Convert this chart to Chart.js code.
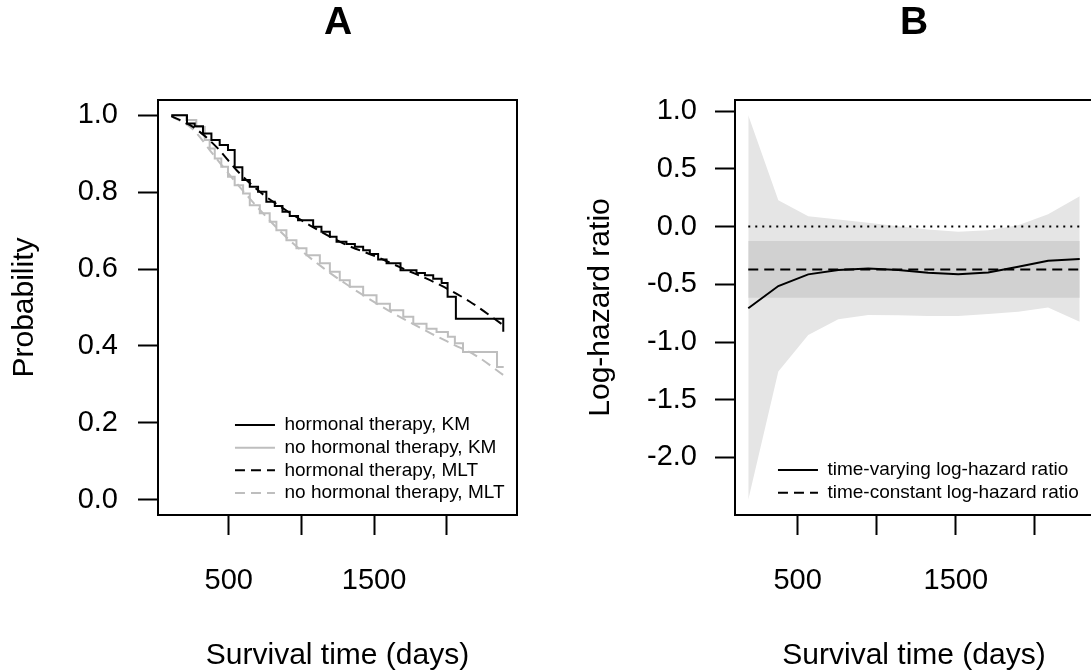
<!DOCTYPE html>
<html>
<head>
<meta charset="utf-8">
<script src="https://cdn.jsdelivr.net/npm/chart.js@4.4.1/dist/chart.umd.min.js"></script>
<style>
    html, body { margin: 0; padding: 0; background: #fff; overflow: hidden; width: 1091px; height: 670px; }
    #panelA { position: absolute; left: 0; top: 0; }
    #panelB { position: absolute; left: 545px; top: 0; }
</style>
</head>
<body>
<canvas id="panelA" width="676" height="670"></canvas>
<canvas id="panelB" width="738" height="670"></canvas>
<script>
// ===== PANEL A: survival curves =====
const kmHormTime = [105, 213, 266, 323, 381, 438, 495, 541, 594, 645, 702, 759, 817, 870, 920, 977, 1081,
    1138, 1196, 1242, 1310, 1368, 1425, 1471, 1528, 1586, 1682, 1792, 1850, 1907, 1965, 2006, 2063, 2389];
const kmHormProb = [1.000, 0.979, 0.972, 0.953, 0.936, 0.923, 0.910, 0.865, 0.832, 0.814, 0.801, 0.775, 0.764,
    0.749, 0.738, 0.727, 0.710, 0.697, 0.684, 0.671, 0.665, 0.658, 0.649, 0.639, 0.625, 0.615, 0.597, 0.590,
    0.584, 0.575, 0.564, 0.528, 0.471, 0.437];

const kmNoHormTime = [105, 208, 277, 335, 369, 404, 449, 495, 541, 599, 645, 714, 782, 828, 897, 966, 1035,
    1127, 1196, 1264, 1333, 1425, 1517, 1609, 1701, 1770, 1861, 1930, 2008, 2056, 2112, 2346, 2392];
const kmNoHormProb = [1.000, 0.988, 0.970, 0.936, 0.914, 0.888, 0.866, 0.840, 0.818, 0.797, 0.766, 0.745,
    0.723, 0.701, 0.675, 0.654, 0.636, 0.615, 0.593, 0.571, 0.554, 0.532, 0.510, 0.493, 0.476, 0.458, 0.445,
    0.436, 0.424, 0.407, 0.384, 0.345, 0.345];

const mltHormTime = [105, 254, 415, 553, 714, 874, 1058, 1287, 1517, 1701, 1930, 2160, 2389];
const mltHormProb = [0.998, 0.970, 0.918, 0.858, 0.801, 0.758, 0.714, 0.667, 0.632, 0.601, 0.563, 0.515, 0.454];

const mltNoHormTime = [105, 250, 400, 550, 700, 850, 1000, 1150, 1300, 1450, 1600, 1750, 1900, 2050, 2200, 2390];
const mltNoHormProb = [0.998, 0.965, 0.895, 0.825, 0.760, 0.700, 0.648, 0.603, 0.563, 0.526, 0.492, 0.461,
    0.431, 0.403, 0.375, 0.324];

const probLimits = [0, 1];
const probTicks = [0, 0.2, 0.4, 0.6, 0.8, 1.0];
const probTickLabels = ['0.0', '0.2', '0.4', '0.6', '0.8', '1.0'];

const timeTicks = [500, 1000, 1500, 2000];
const timeTickLabels = ['500', '', '1500', ''];

// ===== PANEL B: log-hazard ratio =====
const hrTime = [188, 378, 567, 757, 946, 1136, 1325, 1515, 1704, 1894, 2083, 2283];
const hrVarying = [-0.708, -0.515, -0.414, -0.377, -0.363, -0.377, -0.400, -0.412, -0.397, -0.348, -0.296, -0.282];
const hrUpper = [0.963, 0.228, 0.090, 0.061, 0.032, 0.003, -0.025, -0.046, -0.032, 0.012, 0.107, 0.263];
const hrLower = [-2.365, -1.256, -0.939, -0.803, -0.766, -0.769, -0.775, -0.775, -0.757, -0.737, -0.700, -0.824];
const hrConstant = -0.371;
const hrConstUpper = -0.126;
const hrConstLower = -0.616;
const nullEffect = 0;

const hrTicks = [-2, -1.5, -1, -0.5, 0, 0.5, 1];
const hrTickLabels = ['-2.0', '-1.5', '-1.0', '-0.5', '0.0', '0.5', '1.0'];

// ===== HELPERS =====
const FONT = "'Liberation Sans', Arial, Helvetica, sans-serif";
const GREY = '#bebebe';

const zip = (xs, ys) => xs.map((x, i) => ({ x, y: ys[i] }));
const flat = (xs, v) => [{ x: xs[0], y: v }, { x: xs[xs.length - 1], y: v }];
// R-style axis range: data range plus 4% on each side
const extend = (lo, hi) => [lo - 0.04 * (hi - lo), hi + 0.04 * (hi - lo)];

const tickGrid = { drawOnChartArea: false, drawTicks: true, tickLength: 20, tickWidth: 2, tickColor: '#000' };

// box around the plot region
const frame = {
    id: 'frame',
    afterDraw(chart) {
        const { ctx, chartArea: a } = chart;
        ctx.save();
        ctx.strokeStyle = '#000';
        ctx.lineWidth = 2;
        ctx.strokeRect(a.left, a.top, a.right - a.left, a.bottom - a.top);
        ctx.restore();
    }
};

// put the legend box inside the plot, bottom right
const legendSpot = {
    id: 'legendSpot',
    afterLayout(chart, args, opts) {
        const lg = chart.legend;
        if (!lg) return;
        const w = lg.width, h = lg.height;
        lg.left = opts.x; lg.right = opts.x + w;
        lg.top = opts.y; lg.bottom = opts.y + h;
    }
};

function lineLegend(chart) {
    return chart.data.datasets
        .map((ds, i) => ({ ds, i }))
        .filter(o => o.ds.label)
        .map(({ ds, i }) => ({
            text: ds.label,
            fillStyle: 'rgba(0,0,0,0)',
            strokeStyle: ds.borderColor,
            lineWidth: ds.borderWidth,
            lineDash: ds.borderDash || [],
            lineCap: 'butt',
            pointStyle: 'line',
            hidden: false,
            fontColor: '#000',
            datasetIndex: i
        }));
}

function panelOptions(p) {
    return {
        responsive: false,
        animation: false,
        devicePixelRatio: 1,
        events: [],
        elements: { point: { radius: 0 }, line: { borderWidth: 2, fill: false } },
        layout: { padding: 0 },
        plugins: {
            title: {
                display: true, text: p.title, color: '#000',
                font: { family: FONT, size: 39, weight: 'bold' },
                padding: { top: 0, bottom: 53.2 }
            },
            legend: {
                position: 'chartArea',
                align: 'start',
                labels: {
                    usePointStyle: true, pointStyle: 'line', pointStyleWidth: 40, boxHeight: 19,
                    padding: 3.67, color: '#000', textAlign: 'left',
                    font: { family: FONT, size: 19 },
                    generateLabels: lineLegend
                }
            },
            tooltip: { enabled: false },
            legendSpot: p.legendAt
        },
        scales: {
            x: {
                type: 'linear', position: 'bottom',
                min: p.xlim[0], max: p.xlim[1],
                afterBuildTicks: s => { s.ticks = timeTicks.map(v => ({ value: v })); },
                afterFit: s => { s.height = 155; },
                grid: tickGrid,
                border: { display: false },
                ticks: {
                    color: '#000', font: { family: FONT, size: 29 }, padding: 29,
                    maxRotation: 0, autoSkip: false,
                    callback: (v, i) => timeTickLabels[i]
                },
                title: {
                    display: true, text: 'Survival time (days)', color: '#000',
                    font: { family: FONT, size: 30 }, padding: { top: 0, bottom: -4 }
                }
            },
            y: {
                type: 'linear', position: 'left',
                min: p.ylim[0], max: p.ylim[1],
                afterBuildTicks: s => { s.ticks = p.yTicks.map(v => ({ value: v })); },
                afterFit: s => { s.width = p.leftWidth; },
                grid: tickGrid,
                border: { display: false },
                ticks: {
                    color: '#000', font: { family: FONT, size: 29 }, padding: p.yPad,
                    callback: (v, i) => p.yLabels[i]
                },
                title: {
                    display: true, text: p.yTitle, color: '#000',
                    font: { family: FONT, size: 30 }, padding: { top: p.yTitlePad, bottom: 0 }
                }
            },
            yRight: {
                position: 'right',
                grid: { display: false },
                border: { display: false },
                ticks: { display: false },
                afterFit: s => { s.width = p.rightWidth; }
            }
        }
    };
}

// ===== PANEL A =====
const allTimesA = [...kmHormTime, ...kmNoHormTime, ...mltHormTime, ...mltNoHormTime];

new Chart(document.getElementById('panelA'), {
    type: 'line',
    data: {
        datasets: [
            { label: 'hormonal therapy, KM', data: zip(kmHormTime, kmHormProb),
              borderColor: '#000', borderWidth: 2, stepped: true, order: 1 },
            { label: 'no hormonal therapy, KM', data: zip(kmNoHormTime, kmNoHormProb),
              borderColor: GREY, borderWidth: 2, stepped: true, order: 3 },
            { label: 'hormonal therapy, MLT', data: zip(mltHormTime, mltHormProb),
              borderColor: '#000', borderWidth: 2, borderDash: [10, 6], cubicInterpolationMode: 'monotone', order: 0 },
            { label: 'no hormonal therapy, MLT', data: zip(mltNoHormTime, mltNoHormProb),
              borderColor: GREY, borderWidth: 2, borderDash: [10, 6], cubicInterpolationMode: 'monotone', order: 2 }
        ]
    },
    options: panelOptions({
        title: 'A',
        xlim: extend(Math.min(...allTimesA), Math.max(...allTimesA)),
        ylim: extend(probLimits[0], probLimits[1]),
        yTicks: probTicks, yLabels: probTickLabels,
        yTitle: 'Probability', yTitlePad: 6.5, yPad: 20,
        leftWidth: 158, rightWidth: 159,
        legendAt: { x: 231.3, y: 411.8 }
    }),
    plugins: [frame, legendSpot]
});

// ===== PANEL B =====
new Chart(document.getElementById('panelB'), {
    type: 'line',
    data: {
        datasets: [
            { label: 'time-varying log-hazard ratio', data: zip(hrTime, hrVarying),
              borderColor: '#000', borderWidth: 2, order: 0 },
            { label: 'time-constant log-hazard ratio', data: flat(hrTime, hrConstant),
              borderColor: '#000', borderWidth: 2, borderDash: [10, 6], order: 1 },
            { data: flat(hrTime, nullEffect),
              borderColor: '#000', borderWidth: 2, borderDash: [2, 5], order: 2 },
            { data: zip(hrTime, hrUpper), fill: '+1', backgroundColor: '#e5e5e5',
              borderColor: 'rgba(0,0,0,0)', borderWidth: 0, order: 6 },
            { data: zip(hrTime, hrLower),
              borderColor: 'rgba(0,0,0,0)', borderWidth: 0, order: 6 },
            { data: flat(hrTime, hrConstUpper), fill: '+1', backgroundColor: '#d1d1d1',
              borderColor: 'rgba(0,0,0,0)', borderWidth: 0, order: 4 },
            { data: flat(hrTime, hrConstLower),
              borderColor: 'rgba(0,0,0,0)', borderWidth: 0, order: 4 }
        ]
    },
    options: panelOptions({
        title: 'B',
        xlim: extend(hrTime[0], hrTime[hrTime.length - 1]),
        ylim: extend(Math.min(...hrLower), Math.max(...hrUpper)),
        yTicks: hrTicks, yLabels: hrTickLabels,
        yTitle: 'Log-hazard ratio', yTitlePad: 38, yPad: 18,
        leftWidth: 190, rightWidth: 190,
        legendAt: { x: 229.3, y: 456.8 }
    }),
    plugins: [frame, legendSpot]
});
</script>
</body>
</html>
